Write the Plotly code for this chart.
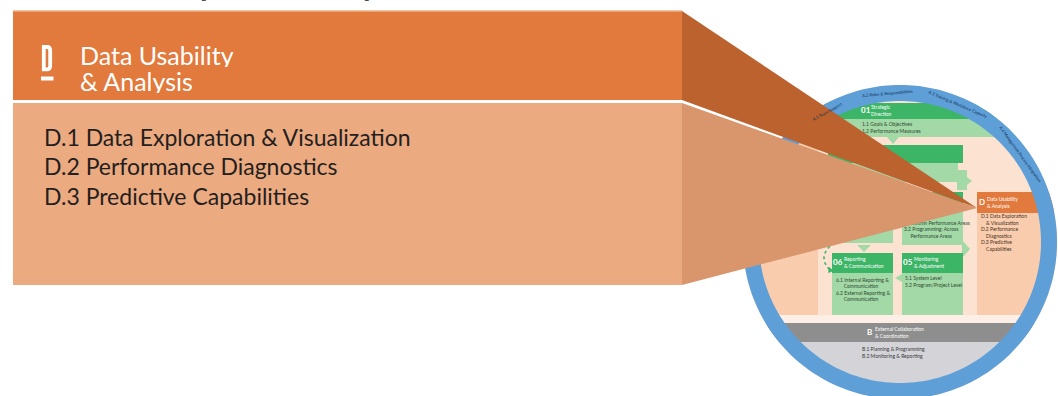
import numpy as np
import plotly.graph_objects as go

# ---------------- content ----------------
heading_lines = ["Data Usability", "& Analysis"]
heading_letter = "D"
sub_items = ["D.1 Data Exploration & Visualization",
             "D.2 Performance Diagnostics",
             "D.3 Predictive Capabilities"]
top_fragments = ["y", "y"]

ring_labels = ["A.1 Team Support", "A.2 Roles & Responsibilities",
               "A.3 Training & Workforce Capacity", "A.4 Management Process Integration"]

block_headers = ["Strategic<br>Direction", "Reporting<br>& Communication",
                 "Monitoring<br>& Adjustment", "External Collaboration<br>& Coordination",
                 "Data Usability<br>& Analysis"]
block_numbers = ["01", "06", "05", "B", "D"]
block_bodies = ["1.1 Goals & Objectives<br>1.2 Performance Measures",
                "6.1 Internal Reporting &<br>      Communication<br>6.2 External Reporting &<br>      Communication",
                "5.1 System Level<br>5.2 Program/Project Level",
                "B.1 Planning & Programming<br>B.2 Monitoring & Reporting",
                "D.1 Data Exploration<br>    & Visualization<br>D.2 Performance<br>    Diagnostics<br>D.3 Predictive<br>    Capabilities",
                "3.1 Within Performance Areas<br>3.2 Programming: Across<br>     Performance Areas"]

# ---------------- styles ----------------
W, H = 1058, 396
CX, CY, R_OUT, R_IN = 900, 242, 157, 141
ORANGE = "#E17A3C"
ORANGE_SIDE = "#BC622F"
PEACH = "#ECAA80"
PEACH_SIDE = "#D9966D"
BLUE = "#5E9FD8"
GREEN = "#3DB566"
LGREEN = "#A3D9A6"
BG_PEACH = "#FCE3D1"
COL_PEACH = "#F8CCAD"
GRAY = "#8E8E8E"
LGRAY = "#D3D3D8"
TEXT = "#231F20"


def circle_pts(r, n=240, rev=False):
    t = np.linspace(0, 2 * np.pi, n, endpoint=False)
    if rev:
        t = t[::-1]
    return list(zip(CX + r * np.cos(t), CY + r * np.sin(t)))


def path_of(pts):
    return "M " + " L ".join(f"{x:.2f},{y:.2f}" for x, y in pts) + " Z"


shapes = []


def rect(x0, y0, x1, y1, color, layer="below"):
    shapes.append(dict(type="rect", x0=x0, y0=y0, x1=x1, y1=y1, fillcolor=color,
                       line=dict(width=0), layer=layer))


def poly(pts, color, layer="below"):
    shapes.append(dict(type="path", path=path_of(pts), fillcolor=color,
                       line=dict(width=0), layer=layer))


# ----- circle interior -----
shapes.append(dict(type="path", path=path_of(circle_pts(R_OUT)), fillcolor=BG_PEACH,
                   line=dict(width=0), layer="below"))
rect(735, 135, 818, 315, COL_PEACH)          # left column
rect(977, 192, 1060, 315, COL_PEACH)         # right D column
rect(977, 192, 1060, 213, ORANGE)            # D header
rect(735, 103, 1060, 119, GREEN)             # 01 header
rect(735, 119, 1060, 137, LGREEN)            # 01 body
poly([(887, 137), (899, 137), (893, 144)], LGREEN)
rect(828, 145, 963, 163, GREEN)              # 02 header
rect(828, 163, 958, 182, LGREEN)             # 02 body
rect(957, 170, 967, 190, LGREEN)
poly([(963, 174), (972, 181), (963, 188)], LGREEN)
rect(828, 192, 963, 203, GREEN)              # 03 header
rect(834, 203, 893, 243, LGREEN)             # 03 left body
rect(902, 203, 963, 245, LGREEN)             # 03 right body
poly([(962, 240), (970, 249), (962, 258)], LGREEN)
poly([(857, 245), (871, 245), (864, 252)], LGREEN)
rect(832, 253, 893, 273, GREEN)              # 06 header
rect(832, 273, 893, 315, LGREEN)             # 06 body
rect(902, 253, 963, 273, GREEN)              # 05 header
rect(902, 273, 963, 315, LGREEN)             # 05 body
poly([(902, 274), (895, 278), (902, 282)], LGREEN)
rect(735, 315, 1060, 323, "#FDEFE5")         # light strip
rect(735, 323, 1060, 342, GRAY)              # B header
rect(735, 342, 1060, 400, LGRAY)             # B body
# dotted feedback arrow
shapes.append(dict(type="path", path="M 830,246 Q 818,258 830,270", line=dict(color=GREEN, width=1.6, dash="dot"),
                   layer="below"))
poly([(829, 267), (834, 271), (828, 273)], GREEN)

# mask outside circle + ring
mask_pts = [(728, 60), (1070, 60), (1070, 410), (728, 410)]
shapes.append(dict(type="path", path=path_of(mask_pts) + " " + path_of(circle_pts(R_OUT)),
                   fillcolor="white", line=dict(width=0), layer="below"))
shapes.append(dict(type="path", path=path_of(circle_pts(R_OUT)) + " " + path_of(circle_pts(R_IN)),
                   fillcolor=BLUE, line=dict(width=0), layer="below"))

# ----- main callout boxes & wedges -----
TIP = (977, 208)
rect(13, 10, 682, 100, ORANGE, layer="above")
rect(13, 10, 682, 11.5, "#F3C7A6", layer="above")
poly([(682, 11), TIP, (682, 100)], ORANGE_SIDE, layer="above")
rect(13, 103, 682, 285, PEACH, layer="above")
poly([(682, 103), TIP, (682, 285)], PEACH_SIDE, layer="above")
# big letter D with underline
shapes.append(dict(type="path", path="M 43.8,47 L 43.8,69.4 L 47.2,69.4 Q 50.2,69.4 50.2,65.5 L 50.2,51 Q 50.2,47 47.2,47 Z",
                   line=dict(color="white", width=3.8), fillcolor="rgba(0,0,0,0)", layer="above"))
rect(41, 76.5, 53.5, 80.5, "white", layer="above")

fig = go.Figure()

# ----- small texts inside the circle (traces: under wedges) -----
def txt(x, y, s, size, color, pos="middle right", bold=False):
    fig.add_trace(go.Scatter(x=[x], y=[y], mode="text", text=[s], textposition=pos,
                             textfont=dict(family="Lato", size=size, color=color,
                                           weight="bold" if bold else "normal"),
                             hoverinfo="skip", showlegend=False))

txt(861, 111, block_numbers[0], 8, "white", bold=True)
txt(871, 111, block_headers[0], 5, "white")
txt(862, 128, block_bodies[0], 5, "#2E4A33")
txt(833, 263, block_numbers[1], 8, "white", bold=True)
txt(844, 263, block_headers[1], 5, "white")
txt(836, 290, block_bodies[1], 5, "#2E4A33")
txt(903, 263, block_numbers[2], 8, "white", bold=True)
txt(914, 263, block_headers[2], 5, "white")
txt(905, 282, block_bodies[2], 5, "#2E4A33")
txt(867, 333, block_numbers[3], 8, "white", bold=True)
txt(875, 333, block_headers[3], 5, "white")
txt(862, 353, block_bodies[3], 5, "#3A3A3A")
txt(979, 203, block_numbers[4], 8, "white", bold=True)
txt(987, 203, block_headers[4], 5, "white")
txt(981, 233, block_bodies[4], 5, "#4A3325")
txt(904, 230, block_bodies[5], 5, "#2E4A33")

annotations = []
# ring labels (rotated along the arc)
for lab, ang in zip(ring_labels, [-29, -5, 23, 54]):
    a = np.deg2rad(ang)
    rm = (R_IN + R_OUT) / 2
    annotations.append(dict(x=CX + rm * np.sin(a), y=CY - rm * np.cos(a), text=lab, showarrow=False,
                            textangle=ang, font=dict(family="Lato", size=4.2, color="#132C4E"),
                            xanchor="center", yanchor="middle"))

# heading
for line, y in zip(heading_lines, [54, 80]):
    annotations.append(dict(x=78, y=y, text=line, showarrow=False, xanchor="left", yanchor="middle",
                            height=25, valign="middle",
                            font=dict(family="Lato", size=25, color="white")))
for item, y in zip(sub_items, [137, 166, 196]):
    annotations.append(dict(x=42, y=y, text=item, showarrow=False, xanchor="left", yanchor="middle",
                            font=dict(family="Lato", size=23, color=TEXT)))
for frag, x in zip(top_fragments, [206, 369]):
    annotations.append(dict(x=x, xref="x", y=1 + 16 / H, yref="paper", text=frag, showarrow=False,
                            xanchor="center", yanchor="middle",
                            font=dict(family="Lato", size=32, color="#4A4A4A", weight="bold")))

fig.update_layout(
    width=W, height=H, margin=dict(l=0, r=0, t=0, b=0),
    paper_bgcolor="white", plot_bgcolor="white",
    xaxis=dict(range=[0, W], visible=False, fixedrange=True),
    yaxis=dict(range=[H, 0], visible=False, fixedrange=True),
    shapes=shapes, annotations=annotations, showlegend=False,
)
fig.write_html("out.html", config={"displayModeBar": False},
               post_script="document.body.style.margin='0px';document.body.style.overflow='hidden';")
